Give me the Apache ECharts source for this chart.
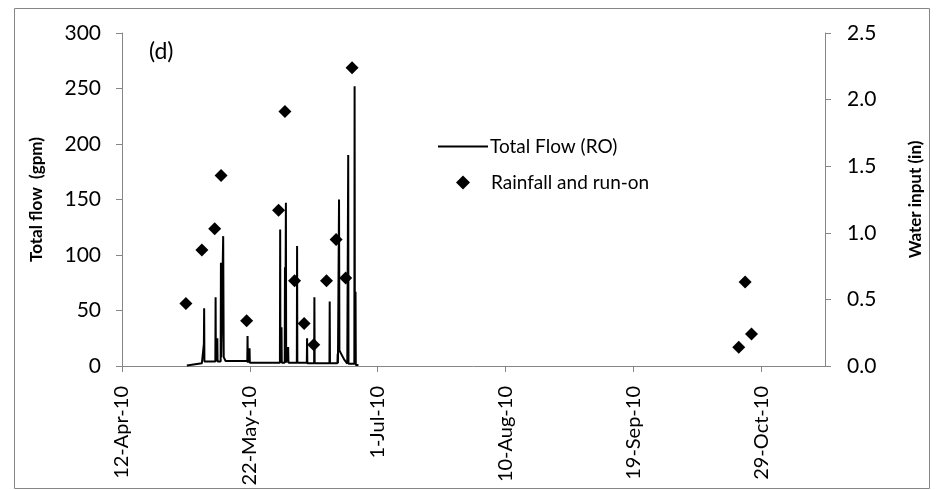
<!DOCTYPE html>
<html>
<head>
<meta charset="utf-8">
<script src="https://cdn.jsdelivr.net/npm/echarts@6/dist/echarts.min.js"></script>
<style>
html,body{margin:0;padding:0;background:#fff;}
#chart{width:936px;height:490px;}
</style>
</head>
<body>
<div id="chart"></div>
<script>
// ---- data ----
const flowTimes = [
  '2010-05-02 07:00','2010-05-07 00:00','2010-05-07 15:00','2010-05-07 17:00','2010-05-07 19:00',
  '2010-05-11 05:00','2010-05-11 07:00','2010-05-11 09:00','2010-05-11 20:00','2010-05-11 22:00',
  '2010-05-12 21:00','2010-05-12 23:00','2010-05-13 01:00','2010-05-13 14:00','2010-05-13 16:00',
  '2010-05-13 18:00','2010-05-13 20:00','2010-05-14 04:00','2010-05-14 10:00',
  '2010-05-21 05:00','2010-05-21 07:00','2010-05-21 09:00','2010-05-21 20:00','2010-05-21 22:00','2010-05-22 00:00',
  '2010-05-31 10:00','2010-05-31 12:00','2010-05-31 14:00','2010-05-31 22:00','2010-06-01 00:00',
  '2010-06-01 22:00','2010-06-02 00:00','2010-06-02 02:00','2010-06-02 07:00','2010-06-02 09:00',
  '2010-06-03 00:00','2010-06-03 02:00','2010-06-05 17:00','2010-06-05 19:00','2010-06-05 21:00',
  '2010-06-08 20:00','2010-06-08 22:00','2010-06-09 00:00','2010-06-11 03:00','2010-06-11 05:00','2010-06-11 07:00',
  '2010-06-15 22:00','2010-06-16 00:00','2010-06-16 02:00','2010-06-18 10:00','2010-06-18 12:00','2010-06-18 14:00',
  '2010-06-18 20:00','2010-06-18 22:00','2010-06-19 01:00','2010-06-20 12:00','2010-06-21 12:00',
  '2010-06-21 17:00','2010-06-21 19:00','2010-06-21 21:00','2010-06-23 17:00','2010-06-23 19:00','2010-06-23 21:00',
  '2010-06-24 00:00','2010-06-24 02:00','2010-06-24 04:00','2010-06-25 00:00'
];
const flowValues = [
  0.5, 2.5, 20, 52, 4,
  4, 62, 4, 25, 4,
  4, 93, 8, 8, 117,
  60, 8, 7, 4.5,
  4.5, 27, 3, 3, 16, 3,
  3, 123, 3, 35, 3,
  3, 89, 3, 147, 3,
  17, 3, 3, 108, 3,
  3, 25, 2.5, 2.5, 62, 2.5,
  2.5, 58, 2.5, 2.5, 11, 2.5,
  2.5, 150, 14, 6, 2,
  2, 190, 2, 2, 252, 2,
  2, 67, 1, 1
];
const rainDates = [
  '2010-05-02','2010-05-07','2010-05-11','2010-05-13','2010-05-21','2010-05-31','2010-06-02',
  '2010-06-05','2010-06-08','2010-06-11','2010-06-15','2010-06-18','2010-06-21','2010-06-23',
  '2010-10-22','2010-10-24','2010-10-26'
];
const rainValues = [
  0.47, 0.87, 1.03, 1.43, 0.34, 1.17, 1.91,
  0.64, 0.32, 0.16, 0.64, 0.95, 0.66, 2.24,
  0.14, 0.63, 0.24
];
const leftTicks = [0, 50, 100, 150, 200, 250, 300];
const rightTicks = [0.0, 0.5, 1.0, 1.5, 2.0, 2.5];
const xStart = '2010-04-12', xEnd = '2010-11-18', xStepDays = 40;
const flowName = 'Total Flow (RO)';
const rainName = 'Rainfall and run-on';
const leftTitle = 'Total flow  (gpm)';
const rightTitle = 'Water input (in)';
const panelLabel = '(d)';

// ---- helpers: date string -> spreadsheet serial day ----
function toSerial(s) {
  const parts = s.split(' ');
  const d = parts[0].split('-').map(Number);
  const t = (parts[1] || '00:00').split(':').map(Number);
  return Date.UTC(d[0], d[1] - 1, d[2], t[0], t[1]) / 86400000 + 25569;
}
const MON = ['Jan','Feb','Mar','Apr','May','Jun','Jul','Aug','Sep','Oct','Nov','Dec'];
function fmtDate(v) {
  const dt = new Date(Math.round((v - 25569) * 86400000));
  return dt.getUTCDate() + '-' + MON[dt.getUTCMonth()] + '-' + String(dt.getUTCFullYear()).slice(2);
}

const FONT = 'Lato';
const AXIS_COLOR = '#868686';
const legendText = {fontFamily: FONT, fontSize: 19, color: '#000'};

const chart = echarts.init(document.getElementById('chart'), null, {renderer: 'canvas'});
chart.setOption({
  animation: false,
  backgroundColor: '#fff',
  textStyle: {fontFamily: FONT},
  grid: {left: 122, right: 111, top: 33, bottom: 124, containLabel: false},
  legend: [
    {
      left: 433, top: 132, itemWidth: 50, itemHeight: 14,
      icon: 'path://M0,0H50V2H0Z',
      textStyle: Object.assign({padding: [0, 0, 0, -3]}, legendText),
      itemStyle: {color: '#000'},
      data: [{name: flowName}]
    },
    {
      left: 451, top: 168, itemWidth: 14, itemHeight: 14,
      icon: 'path://M5,0L10,5L5,10L0,5Z',
      textStyle: Object.assign({padding: [0, 0, 0, 16]}, legendText),
      itemStyle: {color: '#000'},
      data: [{name: rainName}]
    }
  ],
  graphic: [
    {type: 'rect', shape: {x: 14.5, y: 8.5, width: 915, height: 480},
     style: {fill: null, stroke: AXIS_COLOR, lineWidth: 1}, silent: true},
    {type: 'text', left: 149, top: 40,
     style: {text: panelLabel, font: '23px ' + FONT, fill: '#000'}}
  ],
  xAxis: {
    type: 'value',
    min: toSerial(xStart), max: toSerial(xEnd), interval: xStepDays,
    axisLine: {onZero: false, lineStyle: {color: AXIS_COLOR, width: 1}},
    axisTick: {inside: false, length: 6, lineStyle: {color: AXIS_COLOR}},
    splitLine: {show: false},
    axisLabel: {rotate: 90, margin: 20, fontSize: 20, color: '#000', fontFamily: FONT,
      showMaxLabel: false, formatter: fmtDate}
  },
  yAxis: [
    {
      type: 'value', min: leftTicks[0], max: leftTicks[leftTicks.length - 1],
      interval: leftTicks[1] - leftTicks[0],
      name: leftTitle, nameLocation: 'middle', nameGap: 77, nameRotate: 90,
      nameTextStyle: {fontSize: 17, fontWeight: 'bold', color: '#000', fontFamily: FONT},
      axisLine: {show: true, lineStyle: {color: AXIS_COLOR, width: 1}},
      axisTick: {show: true, length: 6, lineStyle: {color: AXIS_COLOR}},
      splitLine: {show: false},
      axisLabel: {margin: 21, fontSize: 21, color: '#000', fontFamily: FONT}
    },
    {
      type: 'value', min: rightTicks[0], max: rightTicks[rightTicks.length - 1],
      interval: rightTicks[1] - rightTicks[0], position: 'right',
      name: rightTitle, nameLocation: 'middle', nameGap: 82, nameRotate: 90,
      nameTextStyle: {fontSize: 17, fontWeight: 'bold', color: '#000', fontFamily: FONT},
      axisLine: {show: true, lineStyle: {color: AXIS_COLOR, width: 1}},
      axisTick: {show: true, length: 6, lineStyle: {color: AXIS_COLOR}},
      splitLine: {show: false},
      axisLabel: {margin: 22, fontSize: 21, color: '#000', fontFamily: FONT,
        formatter: v => v.toFixed(1)}
    }
  ],
  series: [
    {
      name: flowName, type: 'line', yAxisIndex: 0, symbol: 'none', showSymbol: false,
      lineStyle: {color: '#000', width: 2}, itemStyle: {color: '#000'},
      data: flowTimes.map((t, i) => [toSerial(t), flowValues[i]])
    },
    {
      name: rainName, type: 'scatter', yAxisIndex: 1, symbol: 'diamond', symbolSize: 13,
      itemStyle: {color: '#000', opacity: 1},
      data: rainDates.map((t, i) => [toSerial(t), rainValues[i]])
    }
  ]
});
</script>
</body>
</html>
